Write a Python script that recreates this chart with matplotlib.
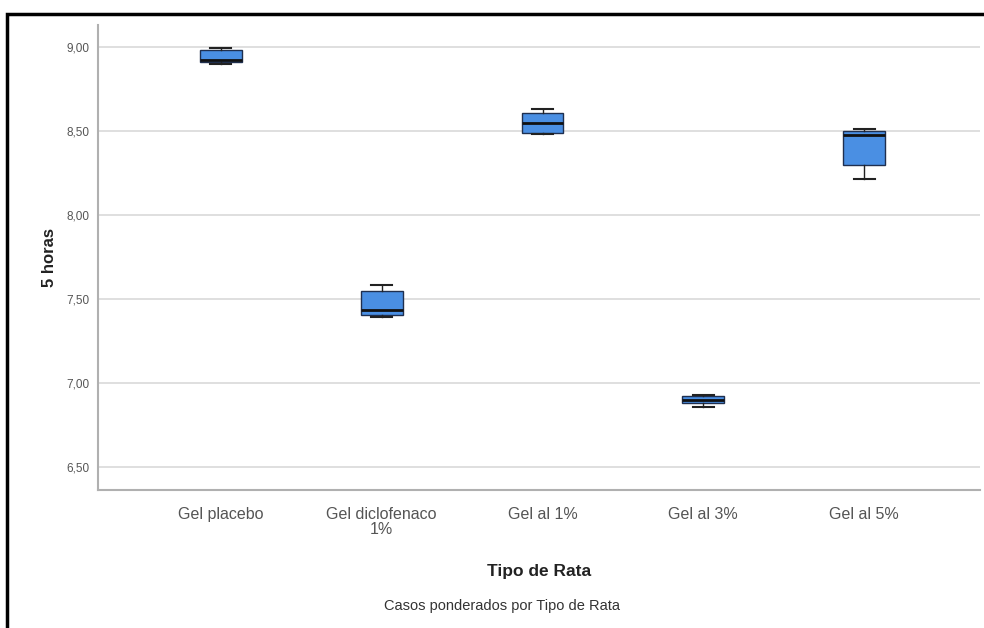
import matplotlib
matplotlib.use("Agg")
import matplotlib.pyplot as plt
from matplotlib.patches import Rectangle

plt.rcParams['font.family'] = ['Liberation Sans', 'DejaVu Sans']

# datos (5 horas por tipo de rata)
categorias = ["Gel placebo", "Gel diclofenaco\n1%", "Gel al 1%", "Gel al 3%", "Gel al 5%"]
whis_low = [8.90, 7.39, 8.485, 6.86, 8.215]
q1 = [8.91, 7.405, 8.49, 6.88, 8.30]
mediana = [8.925, 7.435, 8.55, 6.90, 8.475]
q3 = [8.985, 7.55, 8.61, 6.92, 8.50]
whis_high = [8.995, 7.585, 8.63, 6.93, 8.51]
yticks = [6.5, 7.0, 7.5, 8.0, 8.5, 9.0]
ytick_labels = ["6,50", "7,00", "7,50", "8,00", "8,50", "9,00"]

stats = []
for i in range(len(categorias)):
    stats.append(dict(whislo=whis_low[i], q1=q1[i], med=mediana[i],
                      q3=q3[i], whishi=whis_high[i], fliers=[]))

fig = plt.figure(figsize=(9.84, 6.28), dpi=100)
ax = fig.add_axes([0.0996, 0.2197, 0.8963, 0.7405])

pos = list(range(len(categorias)))
ax.bxp(stats, positions=pos, widths=0.26, capwidths=0.13, patch_artist=True,
       showfliers=False,
       boxprops=dict(facecolor='#4a8fe3', edgecolor='#1f2f4f', linewidth=1),
       medianprops=dict(color='#111111', linewidth=2),
       whiskerprops=dict(color='#222222', linewidth=1),
       capprops=dict(color='#222222', linewidth=1.5))

ax.set_xlim(-0.764, 4.72)
ax.set_ylim(6.363, 9.131)
ax.set_yticks(yticks)
ax.set_yticklabels(ytick_labels, fontsize=8.5, color='#555555')
ax.set_xticks(pos)
ax.set_xticklabels(categorias, fontsize=11.5, color='#555555', linespacing=1.0)
ax.tick_params(axis='both', length=0)
ax.tick_params(axis='x', pad=12)
ax.tick_params(axis='y', pad=6)
ax.grid(axis='y', color='#d9d9d9', linewidth=1.2)
ax.set_axisbelow(True)
for s in ['top', 'right']:
    ax.spines[s].set_visible(False)
for s in ['left', 'bottom']:
    ax.spines[s].set_color('#b0b0b0')
    ax.spines[s].set_linewidth(1.5)

ax.set_ylabel("5 horas", fontsize=12, fontweight='bold', labelpad=7,
              color='#222222')
ax.set_xlabel("Tipo de Rata", fontsize=12.5, fontweight='bold', labelpad=20,
              color='#222222')
fig.text(0.51, 0.035, "Casos ponderados por Tipo de Rata", fontsize=10.5,
         ha='center', va='center', color='#333333')

# marco negro
fig.patches.append(Rectangle((7 / 984, -0.1), 1.2, 1 - 14 / 628 + 0.1,
                             transform=fig.transFigure, fill=False,
                             edgecolor='black', linewidth=2.5))

fig.savefig("out.png", dpi=100)
